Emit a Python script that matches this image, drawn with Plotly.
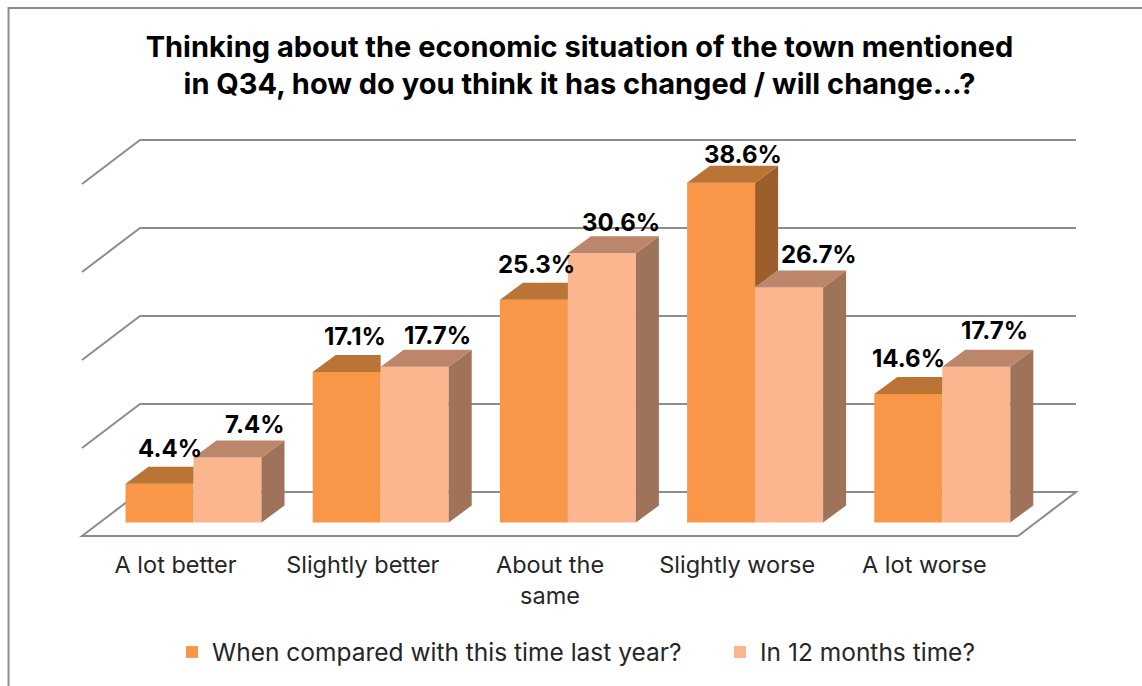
import plotly.graph_objects as go

# ---- data ----
categories = ["A lot better", "Slightly better", "About the<br>same", "Slightly worse", "A lot worse"]
last_year = [4.4, 17.1, 25.3, 38.6, 14.6]
next_year = [7.4, 17.7, 30.6, 26.7, 17.7]
series_names = ["When compared with this time last year?", "In 12 months time?"]
grid_values = [0, 10, 20, 30, 40]
title_text = ("Thinking about the economic situation of the town mentioned<br>"
              "in Q34, how do you think it has changed / will change...?")

# hand-placed label nudges of the original (pixels, right / up from the bar's front top centre)
nudge_last = [(10, 35), (8, 36), (3, 35), (22, 28), (0, 36)]
nudge_next = [(27, 33), (23, 31), (19, 31), (30, 33), (18, 36)]

# ---- geometry / styles ----
W, H = 1142, 686
PLOT_L, PLOT_R, PLOT_T, PLOT_B = 70, 1090, 120, 540
CAT_PX = 187.2          # px per category
VAL_PX = 8.8            # px per percentage point
X0_PX = 175.6           # px of category 0 on the floor's front edge
Y0_PX = 522.5           # px of value 0 at the bars' front base
BAR_W = 68 / CAT_PX
BAR_SHIFT = 17.9 / CAT_PX   # bars stand back from the floor's front edge
DX, DV = 23 / CAT_PX, 17 / VAL_PX        # bar depth
FX, FV = 58 / CAT_PX, 44 / VAL_PX        # floor depth
FRONT_V = -(536 - Y0_PX) / VAL_PX        # floor's front edge in value units

ORANGE, PALE = "#FA9648", "#FBB58F"
ORANGE_TOP, ORANGE_SIDE = "#B97436", "#9C5F2B"
PALE_TOP, PALE_SIDE = "#BC866A", "#9E735A"
GRID = "#8C8C8C"
FONT = "Inter"

idx = list(range(len(categories)))


def faces(polys):
    xs, ys = [], []
    for p in polys:
        xs += [q[0] for q in p] + [p[0][0], None]
        ys += [q[1] for q in p] + [p[0][1], None]
    return xs, ys


o_top, o_side, p_top, p_side = [], [], [], []
for i, a, b in zip(idx, last_year, next_year):
    xl = i + BAR_SHIFT - BAR_W
    xm = i + BAR_SHIFT
    xr = i + BAR_SHIFT + BAR_W
    if a > b:
        o_top.append([(xl, a), (xl + DX, a + DV), (xm + DX, a + DV), (xm, a)])
        o_side.append([(xm, a), (xm + DX, a + DV), (xm + DX, b + DV), (xm, b)])
    else:
        o_top.append([(xl, a), (xl + DX, a + DV), (xm, a + DV), (xm, a)])
    p_top.append([(xm, b), (xm + DX, b + DV), (xr + DX, b + DV), (xr, b)])
    p_side.append([(xr, b), (xr + DX, b + DV), (xr + DX, DV), (xr, 0)])

fig = go.Figure()
fig.add_trace(go.Bar(x=idx, y=last_year, name=series_names[0], width=BAR_W, offset=BAR_SHIFT - BAR_W,
                     marker=dict(color=ORANGE, line=dict(width=0)), hoverinfo="y", legend="legend"))
fig.add_trace(go.Bar(x=idx, y=next_year, name=series_names[1], width=BAR_W, offset=BAR_SHIFT,
                     marker=dict(color=PALE, line=dict(width=0)), hoverinfo="y", legend="legend2"))
for polys, col in [(o_side, ORANGE_SIDE), (o_top, ORANGE_TOP), (p_side, PALE_SIDE), (p_top, PALE_TOP)]:
    xs, ys = faces(polys)
    fig.add_trace(go.Scatter(x=xs, y=ys, mode="lines", fill="toself", fillcolor=col,
                             line=dict(width=0, color=col), showlegend=False, hoverinfo="skip"))

# walls and floor, behind the bars
shapes = []
x_left, x_right = -0.5, len(categories) - 0.5
for g in grid_values:
    front, back = g + FRONT_V, g + FRONT_V + FV
    path = (f"M{x_left},{front} L{x_left + FX},{back} L{x_right + FX},{back}")
    if g == grid_values[0]:
        path += f" L{x_right},{front} Z"
    shapes.append(dict(type="path", path=path, layer="below", line=dict(color=GRID, width=2),
                       xref="x", yref="y"))

# outer frame of the chart, open at right and bottom
pw, ph = PLOT_R - PLOT_L, PLOT_B - PLOT_T
fx = lambda px: (px - PLOT_L) / pw
fy = lambda py: (PLOT_B - py) / ph
shapes.append(dict(type="path", xref="paper", yref="paper",
                   path=f"M{fx(8.5)},{fy(686)} L{fx(8.5)},{fy(8)} L{fx(1142)},{fy(8)}",
                   line=dict(color="#8C8C8C", width=2)))

annotations = []
for i, a, b, na, nb in zip(idx, last_year, next_year, nudge_last, nudge_next):
    for v, n, cx in [(a, na, i + BAR_SHIFT - BAR_W / 2), (b, nb, i + BAR_SHIFT + BAR_W / 2)]:
        annotations.append(dict(x=cx, y=v, xref="x", yref="y", text=f"{v:.1f}%", showarrow=False,
                                xshift=n[0], yshift=n[1], xanchor="center", yanchor="middle",
                                font=dict(family=FONT, size=24, color="#000000", weight="bold")))

legend_style = dict(orientation="h", yanchor="middle", y=1 - 652 / H, xanchor="left", xref="container",
                    yref="container", font=dict(family=FONT, size=24.5, color="#262626"),
                    bgcolor="rgba(0,0,0,0)")

fig.update_layout(
    width=W, height=H, autosize=False,
    margin=dict(l=PLOT_L, r=W - PLOT_R, t=PLOT_T, b=H - PLOT_B, pad=0),
    paper_bgcolor="white", plot_bgcolor="rgba(0,0,0,0)",
    barmode="overlay",
    title=dict(text=title_text, x=579.5 / W, xanchor="center", xref="container", y=1 - 56.5 / H, yanchor="middle",
               font=dict(family=FONT, size=29, color="#000000", weight="bold")),
    xaxis=dict(range=[(PLOT_L - X0_PX) / CAT_PX, (PLOT_R - X0_PX) / CAT_PX], tickmode="array",
               tickvals=idx, ticktext=categories, showgrid=False, zeroline=False, showline=False,
               ticks="outside", ticklen=4, tickcolor="rgba(0,0,0,0)",
               tickfont=dict(family=FONT, size=23.5, color="#262626")),
    yaxis=dict(range=[(Y0_PX - PLOT_B) / VAL_PX, (Y0_PX - PLOT_T) / VAL_PX], visible=False),
    legend=dict(x=172 / W, **legend_style),
    legend2=dict(x=720 / W, **legend_style),
    shapes=shapes, annotations=annotations, showlegend=True,
)
fig.write_html("out.html", config=dict(displayModeBar=False),
               post_script="document.body.style.margin='0';document.body.style.overflow='hidden';")
